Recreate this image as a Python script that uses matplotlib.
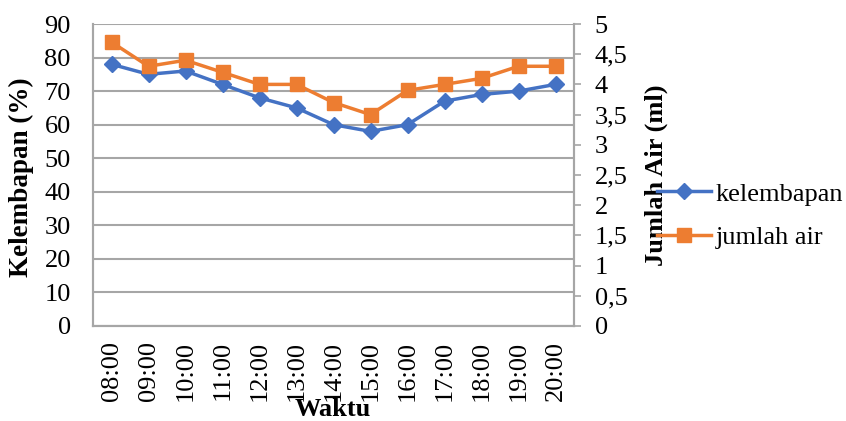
import matplotlib
matplotlib.use("Agg")
import matplotlib.pyplot as plt
from matplotlib.ticker import FuncFormatter

waktu = ["08:00", "09:00", "10:00", "11:00", "12:00", "13:00", "14:00",
         "15:00", "16:00", "17:00", "18:00", "19:00", "20:00"]
kelembapan = [78, 75, 76, 72, 68, 65, 60, 58, 60, 67, 69, 70, 72]
jumlah_air = [4.7, 4.3, 4.4, 4.2, 4.0, 4.0, 3.7, 3.5, 3.9, 4.0, 4.1, 4.3, 4.3]

plt.rcParams['font.family'] = ['Liberation Serif', 'DejaVu Serif']
FS = 19
GRID = '#a6a6a6'
BLUE = '#4472C4'
ORANGE = '#ED7D31'
W, H = 846, 421

fig = plt.figure(figsize=(W / 100, H / 100), dpi=100)
ax = fig.add_axes([93 / W, (H - 326) / H, 481 / W, 302 / H])
ax2 = ax.twinx()

x = list(range(len(waktu)))
l1, = ax.plot(x, kelembapan, color=BLUE, lw=2.5, marker='D', ms=8.5, label='kelembapan', zorder=3)
l2, = ax2.plot(x, jumlah_air, color=ORANGE, lw=2.5, marker='s', ms=10, label='jumlah air', zorder=3)

ax.set_xlim(-0.5, len(waktu) - 0.5)
ax.set_ylim(0, 90)
ax.set_yticks(range(0, 91, 10))
ax2.set_ylim(0, 5)
ax2.set_yticks([i * 0.5 for i in range(11)])
ax2.yaxis.set_major_formatter(FuncFormatter(lambda v, p: ('%g' % v).replace('.', ',')))

ax.set_xticks(x)
ax.set_xticklabels(waktu, rotation=90, fontsize=FS)
ax.tick_params(axis='x', length=0, pad=11)
ax.tick_params(axis='y', length=0, labelsize=FS, pad=16)
ax2.tick_params(axis='y', length=5, color=GRID, width=1.2, labelsize=FS, pad=10)

ax.yaxis.grid(True, color=GRID, lw=1.5)
ax.set_axisbelow(True)
for a in (ax, ax2):
    for s in a.spines.values():
        s.set_color(GRID)
        s.set_linewidth(1.5)
ax2.spines['top'].set_visible(False)
ax.spines['top'].set_visible(False)

fig.text(21 / W, (H - 177) / H, 'Kelembapan (%)', fontsize=FS + 0.5, fontweight='bold',
         rotation=90, ha='center', va='center')
fig.text(656 / W, (H - 175) / H, 'Jumlah Air (ml)', fontsize=FS, fontweight='bold',
         rotation=90, ha='center', va='center')
fig.text(333 / W, (H - 410) / H, 'Waktu', fontsize=FS, fontweight='bold',
         ha='center', va='center')

fig.legend(handles=[l1, l2], loc='center left', bbox_to_anchor=(657 / W, (H - 215.5) / H),
           frameon=False, fontsize=FS, handlelength=2.05, handletextpad=0.17,
           labelspacing=0.75, borderaxespad=0, borderpad=0)

fig.savefig('out.png', dpi=100)
